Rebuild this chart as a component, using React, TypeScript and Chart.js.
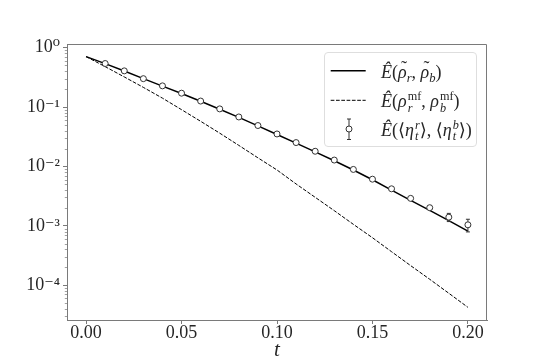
import React, { useEffect, useRef } from 'react';
import { Chart, registerables } from 'chart.js';

Chart.register(...registerables);

// ---- data ----
const tGrid = [0.0, 0.01, 0.02, 0.03, 0.04, 0.05, 0.06, 0.07, 0.08, 0.09, 0.1, 0.11, 0.12, 0.13, 0.14, 0.15, 0.16, 0.17, 0.18, 0.19, 0.2];
const solidValues = [0.706, 0.537, 0.403, 0.3, 0.225, 0.169, 0.125, 0.0916, 0.0668, 0.0481, 0.0345, 0.0247, 0.0176, 0.01245, 0.00871, 0.00596, 0.00398, 0.00269, 0.00182, 0.00122, 0.000815];
const dashedValues = [0.706, 0.478, 0.321, 0.214, 0.141, 0.0902, 0.0575, 0.0363, 0.0226, 0.01396, 0.00871, 0.00507, 0.00302, 0.0018, 0.00106, 0.000631, 0.000367, 0.000214, 0.000126, 0.0000733, 0.0000425];
const pointT = [0.01, 0.02, 0.03, 0.04, 0.05, 0.06, 0.07, 0.08, 0.09, 0.1, 0.11, 0.12, 0.13, 0.14, 0.15, 0.16, 0.17, 0.18, 0.19, 0.2];
const pointValues = [0.54, 0.406, 0.3, 0.227, 0.171, 0.126, 0.093, 0.068, 0.0488, 0.0352, 0.0252, 0.018, 0.0128, 0.0089, 0.0061, 0.0042, 0.0029, 0.00202, 0.0014, 0.00104];
const pointErrors = [0.006, 0.005, 0.004, 0.003, 0.0025, 0.002, 0.0016, 0.0013, 0.001, 0.0008, 0.0006, 0.0005, 0.0004, 0.0003, 0.00025, 0.0002, 0.00015, 0.00014, 0.00022, 0.00025];
const xTickValues = [0, 0.05, 0.1, 0.15, 0.2];
const yTickExponents = [0, -1, -2, -3, -4];
const xMin = -0.01;
const xMax = 0.21;
const yMin = 2.6e-5;
const yMax = 1.15;

const TEXT = '#262626';
const SPINE = '#7a7a7a';
const FONT = '"Liberation Serif", "DejaVu Serif", serif';

const SUP: Record<string, string> = {
  '0': '\u2070', '1': '\u00b9', '2': '\u00b2', '3': '\u00b3', '4': '\u2074',
  '5': '\u2075', '6': '\u2076', '7': '\u2077', '8': '\u2078', '9': '\u2079', '-': '\u207b',
};
const powLabel = (e: number) => '10' + String(e).split('').map((c) => SUP[c]).join('');
const isPow10 = (v: number) => {
  const l = Math.log10(v);
  return Math.abs(l - Math.round(l)) < 1e-9;
};

const errorBarPlugin = {
  id: 'errorBars',
  beforeDatasetDraw(chart: any, args: any) {
    if (args.index !== 0) return;
    const { ctx, scales } = chart;
    const xs = scales.x;
    const ys = scales.y;
    ctx.save();
    ctx.strokeStyle = '#333';
    ctx.lineWidth = 1;
    pointT.forEach((t, i) => {
      const x = xs.getPixelForValue(t);
      const yTop = ys.getPixelForValue(pointValues[i] + pointErrors[i]);
      const yBot = ys.getPixelForValue(pointValues[i] - pointErrors[i]);
      ctx.beginPath();
      ctx.moveTo(x, yTop);
      ctx.lineTo(x, yBot);
      ctx.moveTo(x - 2, yTop);
      ctx.lineTo(x + 2, yTop);
      ctx.moveTo(x - 2, yBot);
      ctx.lineTo(x + 2, yBot);
      ctx.stroke();
    });
    ctx.restore();
  },
};

const framePlugin = {
  id: 'frame',
  afterDraw(chart: any) {
    const { ctx, chartArea, scales } = chart;
    const { left, right, top, bottom } = chartArea;
    ctx.save();
    ctx.strokeStyle = SPINE;
    ctx.lineWidth = 0.7;
    scales.y.ticks.forEach((tk: any) => {
      if (isPow10(tk.value)) return;
      const y = Math.round(scales.y.getPixelForValue(tk.value)) + 0.5;
      ctx.beginPath();
      ctx.moveTo(left - 2.2, y);
      ctx.lineTo(left, y);
      ctx.stroke();
    });
    ctx.lineWidth = 1;
    ctx.beginPath();
    ctx.moveTo(left, top + 0.5);
    ctx.lineTo(right - 0.5, top + 0.5);
    ctx.lineTo(right - 0.5, bottom);
    ctx.stroke();
    ctx.restore();
  },
};

const SubSup = ({ sup, sub }: { sup: React.ReactNode; sub: React.ReactNode }) => (
  <span
    style={{
      display: 'inline-flex',
      flexDirection: 'column',
      verticalAlign: '0.6em',
      fontSize: '0.68em',
      lineHeight: 0.95,
      marginLeft: 1,
    }}
  >
    <span>{sup}</span>
    <span>{sub}</span>
  </span>
);

const Sub = ({ children }: { children: React.ReactNode }) => (
  <span style={{ fontSize: '0.7em', verticalAlign: '-0.3em', fontStyle: 'italic' }}>{children}</span>
);

const RhoTilde = () => (
  <span style={{ position: 'relative', display: 'inline-block' }}>
    <i>ρ</i>
    <span
      style={{
        position: 'absolute',
        left: '0.17em',
        top: '-0.04em',
        fontStyle: 'normal',
        lineHeight: 1,
      }}
    >
      ˜
    </span>
  </span>
);

const Legend = () => {
  const rowStyle = (cy: number): React.CSSProperties => ({
    position: 'absolute',
    left: 56,
    top: cy - 12,
    height: 24,
    lineHeight: '24px',
    whiteSpace: 'nowrap',
  });
  return (
    <div
      style={{
        position: 'absolute',
        left: 324,
        top: 52,
        width: 153,
        height: 95,
        boxSizing: 'border-box',
        border: '1px solid #dedede',
        borderRadius: 4,
        background: 'rgba(255,255,255,0.85)',
        fontFamily: FONT,
        fontSize: 18,
        color: TEXT,
      }}
    >
      <svg width={60} height={95} style={{ position: 'absolute', left: -1, top: -1 }}>
        <line x1={6.7} x2={41.7} y1={18.7} y2={18.7} stroke="#000" strokeWidth={1.5} />
        <line x1={6.7} x2={41.7} y1={48.3} y2={48.3} stroke="#000" strokeWidth={1} strokeDasharray="3.7 1.6" />
        <line x1={25} x2={25} y1={67} y2={87.5} stroke="#333" strokeWidth={1} />
        <line x1={23} x2={27} y1={67} y2={67} stroke="#333" strokeWidth={1} />
        <line x1={23} x2={27} y1={87.5} y2={87.5} stroke="#333" strokeWidth={1} />
        <circle cx={25} cy={77} r={3} fill="#fff" stroke="#333" strokeWidth={1} />
      </svg>
      <div style={rowStyle(18.7)}>
        <i>Ê</i>(<RhoTilde /><Sub>r</Sub>, <RhoTilde /><Sub>b</Sub>)
      </div>
      <div style={rowStyle(48.3)}>
        <i>Ê</i>(<i>ρ</i><SubSup sup="mf" sub={<i>r</i>} />, <i>ρ</i><SubSup sup="mf" sub={<i>b</i>} />)
      </div>
      <div style={rowStyle(77)}>
        <i>Ê</i>(⟨<i>η</i><SubSup sup={<i>r</i>} sub={<i>t</i>} />⟩, ⟨<i>η</i><SubSup sup={<i>b</i>} sub={<i>t</i>} />⟩)
      </div>
    </div>
  );
};

export default function App() {
  const canvasRef = useRef<HTMLCanvasElement | null>(null);

  useEffect(() => {
    const canvas = canvasRef.current;
    if (!canvas) return;
    const chart = new Chart(canvas, {
      type: 'scatter',
      data: {
        datasets: [
          {
            label: 'points',
            data: pointT.map((t, i) => ({ x: t, y: pointValues[i] })),
            showLine: false,
            pointRadius: 3,
            pointBackgroundColor: '#ffffff',
            pointBorderColor: '#333333',
            pointBorderWidth: 1,
          },
          {
            label: 'solid',
            data: tGrid.map((t, i) => ({ x: t, y: solidValues[i] })),
            showLine: true,
            borderColor: '#000000',
            borderWidth: 1.5,
            pointRadius: 0,
            tension: 0,
          },
          {
            label: 'dashed',
            data: tGrid.map((t, i) => ({ x: t, y: dashedValues[i] })),
            showLine: true,
            borderColor: '#000000',
            borderWidth: 1,
            borderDash: [3.7, 1.6],
            pointRadius: 0,
            tension: 0,
          },
        ],
      },
      options: {
        animation: false,
        responsive: false,
        devicePixelRatio: 1,
        layout: { padding: { top: 44, right: 53, left: 0, bottom: 0 } },
        plugins: { legend: { display: false }, tooltip: { enabled: false } },
        scales: {
          x: {
            type: 'linear',
            min: xMin,
            max: xMax,
            afterBuildTicks: (s: any) => {
              s.ticks = xTickValues.map((v) => ({ value: v }));
            },
            afterFit: (s: any) => {
              s.height = 40;
            },
            grid: { drawOnChartArea: false, drawTicks: true, tickLength: 4, tickColor: SPINE, tickWidth: 1 },
            border: { display: true, color: SPINE, width: 1 },
            ticks: {
              autoSkip: false,
              maxRotation: 0,
              padding: 0,
              color: TEXT,
              font: { family: FONT, size: 18, lineHeight: 1 },
              callback: (v: any) => Number(v).toFixed(2),
            },
            title: {
              display: true,
              text: 't',
              color: TEXT,
              font: { family: FONT, size: 21, style: 'italic', lineHeight: 1 },
              padding: { top: 0, bottom: -1 },
            },
          },
          y: {
            type: 'logarithmic',
            min: yMin,
            max: yMax,
            afterBuildTicks: (s: any) => {
              const out: any[] = [];
              for (let k = -6; k <= 1; k++) {
                for (let m = 1; m <= 9; m++) {
                  const v = Number((m * Math.pow(10, k)).toPrecision(6));
                  if (v >= yMin && v <= yMax) out.push({ value: v, major: m === 1 });
                }
              }
              s.ticks = out;
            },
            afterFit: (s: any) => {
              s.width = 67;
            },
            grid: {
              drawOnChartArea: false,
              drawTicks: true,
              tickLength: 4,
              tickWidth: 1,
              tickColor: (c: any) => (c.tick && isPow10(c.tick.value) ? SPINE : 'rgba(0,0,0,0)'),
            },
            border: { display: true, color: SPINE, width: 1 },
            ticks: {
              autoSkip: false,
              padding: 3,
              color: TEXT,
              font: { family: FONT, size: 18 },
              callback: (v: any) => {
                const n = Number(v);
                if (!isPow10(n)) return '';
                const e = Math.round(Math.log10(n));
                return yTickExponents.includes(e) ? powLabel(e) : '';
              },
            },
          },
        },
      },
      plugins: [errorBarPlugin, framePlugin],
    } as any);
    return () => chart.destroy();
  }, []);

  return (
    <div style={{ position: 'fixed', left: 0, top: 0, width: 540, height: 360, background: '#fff' }}>
      <canvas ref={canvasRef} width={540} height={360} style={{ position: 'absolute', left: 0, top: 0 }} />
      <Legend />
    </div>
  );
}
